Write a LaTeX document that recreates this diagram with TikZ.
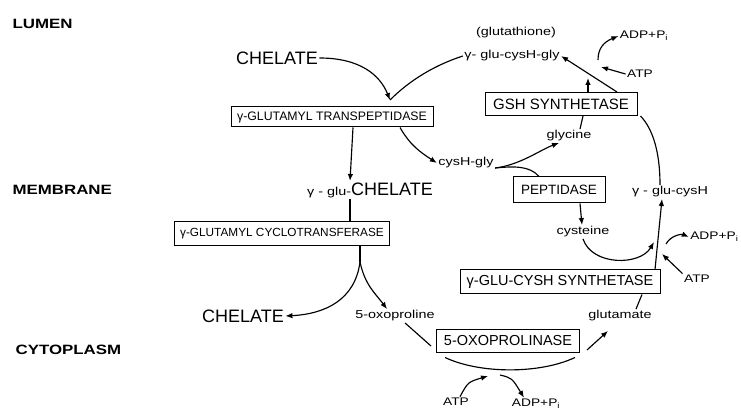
\documentclass[tikz,border=0pt]{standalone}
\usepackage{fontspec}
\setmainfont{Liberation Sans}
\newfontfamily\widefont{Liberation Sans}[FakeStretch=1.25]
\usetikzlibrary{arrows.meta}

\begin{document}
\begin{tikzpicture}[
  x=1pt, y=-1pt,
  line width=1.15pt,
  region/.style={anchor=west, inner sep=0pt, font=\widefont\bfseries\fontsize{13.5}{16}\selectfont},
  enz/.style={draw, line width=1pt, inner sep=2pt, font=\fontsize{12}{14}\selectfont},
  lbl/.style={inner sep=1pt, font=\widefont\fontsize{11.5}{13}\selectfont},
  cof/.style={inner sep=1pt, font=\widefont\fontsize{11}{13}\selectfont},
  big/.style={inner sep=1pt, font=\fontsize{18}{20}\selectfont},
  arr/.style={-{Latex[length=7pt,width=5.5pt]}}
]
\useasboundingbox (0,0) rectangle (741,411);

\node[region] (lumen) at (12,24) {LUMEN};
\node[region] (memb) at (12,190) {MEMBRANE};
\node[region] (cyto) at (15,350) {CYTOPLASM};

\node[big] (chelA) at (277,58) {CHELATE};
\node[enz, font=\fontsize{12.3}{14}\selectfont, minimum width=202pt, minimum height=20pt] (tp) at (332,117) {γ-GLUTAMYL TRANSPEPTIDASE};
\node[lbl] (glut) at (516,33) {(glutathione)};
\node[lbl] (gsh) at (512,56) {γ- glu-cysH-gly};
\node[cof] (adpA) at (644,36) {ADP+P\textsubscript{i}};
\node[cof] (atpA) at (640,74) {ATP};
\node[enz, font=\fontsize{15}{17}\selectfont, minimum width=152pt, minimum height=23pt] (gs) at (561,104) {GSH SYNTHETASE};
\node[lbl] (gly) at (569,136) {glycine};
\node[lbl] (cg) at (466,163) {cysH-gly};
\node[big] (gc) at (370,190) {{\widefont\fontsize{11.5}{13}\selectfont γ - glu-}CHELATE};
\node[enz, font=\fontsize{13.5}{16}\selectfont, minimum width=92pt, minimum height=26pt] (pep) at (559,190) {PEPTIDASE};
\node[lbl] (gcys) at (670,192) {γ - glu-cysH};
\node[enz, font=\fontsize{11.8}{14}\selectfont, minimum width=215pt, minimum height=24pt] (cyc) at (282,234) {γ-GLUTAMYL CYCLOTRANSFERASE};
\node[lbl] (cys) at (583,232) {cysteine};
\node[cof, anchor=east] (adpB) at (740,237) {ADP+P\textsubscript{i}};
\node[enz, font=\fontsize{14.5}{17}\selectfont, minimum width=200pt, minimum height=24pt] (gcs) at (560,282) {γ-GLU-CYSH SYNTHETASE};
\node[cof] (atpB) at (697,279) {ATP};
\node[big] (chelB) at (243,316) {CHELATE};
\node[lbl] (oxo) at (395,316) {5-oxoproline};
\node[lbl] (glu) at (620,316) {glutamate};
\node[enz, font=\fontsize{14.5}{17}\selectfont, minimum width=143pt, minimum height=22pt] (oxa) at (508,341) {5-OXOPROLINASE};
\node[cof] (atpC) at (456,402) {ATP};
\node[cof] (adpC) at (536,404) {ADP+P\textsubscript{i}};

\coordinate (tv) at (390,100);
\coordinate (gt) at (588,78);
\coordinate (jA) at (601,67);
\coordinate (jA2) at (598,60);
\coordinate (cf) at (360,262);
\coordinate (jB) at (654,242);
\coordinate (jC) at (662,254);
\coordinate (jD) at (666,244);
\coordinate (jE) at (488,376);
\coordinate (jF) at (500,375);

\draw[arr] (chelA.east) .. controls (360,58) and (380,75) .. (tv);
\draw (gsh.west) .. controls (435,65) and (410,80) .. (tv);
\draw[arr] ([xshift=21pt]tp.south) -- ([xshift=-20pt]gc.north);
\draw[arr] ([xshift=68pt]tp.south) .. controls (410,145) and (420,152) .. (cg.west);
\draw ([xshift=-20pt]gc.south) -- ([xshift=68pt]cyc.north);
\draw ([xshift=78pt]cyc.south) -- (cf);
\draw[arr] (cf) .. controls (355,300) and (325,314) .. (chelB.east);
\draw[arr] (cf) .. controls (365,285) and (375,293) .. ([xshift=-8pt]oxo.north);

\draw[arr] ([yshift=-5pt]cg.east) .. controls (520,165) and (540,150) .. ([xshift=-10pt]gly.south);
\draw ([yshift=-5pt]cg.east) .. controls (515,166) and (530,166) .. ([xshift=-20pt]pep.north);
\draw[arr] ([xshift=21pt]pep.south) -- ([xshift=-1pt]cys.north);
\draw ([xshift=11pt]gly.north) -- ([xshift=22pt]gs.south);
\draw[arr] ([xshift=27pt]gs.north) -- (gt);
\draw[arr] ([xshift=56pt]gs.north) -- (gsh.east);
\draw[arr] (atpA.west) -- (jA);
\draw[arr] (jA2) .. controls (598,48) and (604,42) .. (adpA.west);

\draw ([xshift=-10pt]gcys.north) .. controls (660,150) and (652,128) .. ([xshift=3pt]gs.south east);
\draw[arr] ([xshift=95pt]gcs.north) -- ([xshift=-8pt]gcys.south);
\draw[arr] (cys.south) .. controls (592,266) and (640,266) .. (jB);
\draw[arr] (atpB.north west) -- (jC);
\draw[arr] (jD) .. controls (671,235) and (682,234) .. (adpB.west);
\draw ([xshift=16pt]glu.north) -- ([xshift=82pt]gcs.south);

\draw ([xshift=10pt]oxo.south) -- ([shift={(-5pt,-5pt)}]oxa.west);
\draw ([shift={(9pt,-5pt)}]oxa.south west) .. controls (480,374) and (540,374) .. ([shift={(-5pt,-5pt)}]oxa.south east);
\draw[arr] ([shift={(7pt,-9pt)}]oxa.east) -- ([shift={(-12pt,-8pt)}]glu.south);
\draw[arr] ([xshift=4pt]atpC.north) .. controls (468,382) .. (jE);
\draw[arr] (jF) .. controls (512,378) .. ([xshift=-12pt]adpC.north);
\end{tikzpicture}
\end{document}
